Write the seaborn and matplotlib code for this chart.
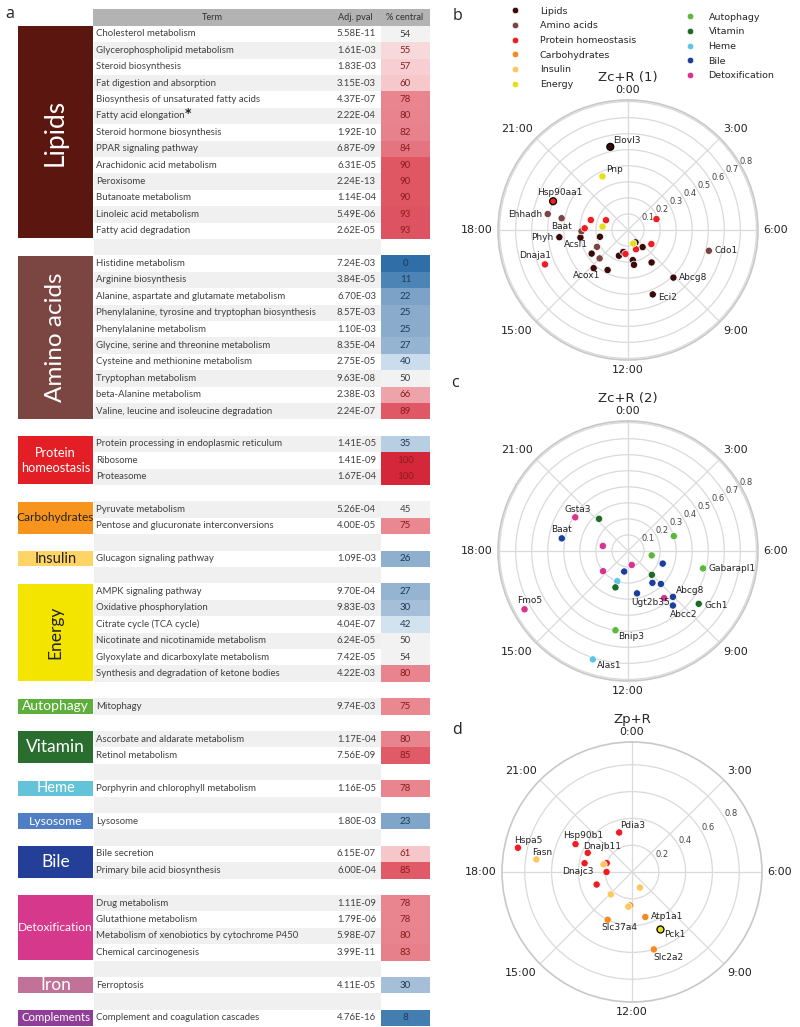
import numpy as np
import pandas as pd
import matplotlib.pyplot as plt
import seaborn as sns
from matplotlib.colors import LinearSegmentedColormap
from matplotlib.lines import Line2D
from matplotlib.patches import Rectangle

# ---------------- panel a : enrichment table ----------------
group_names = ["Lipids", "Amino acids", "Protein\nhomeostasis", "Carbohydrates", "Insulin", "Energy",
               "Autophagy", "Vitamin", "Heme", "Lysosome", "Bile", "Detoxification", "Iron", "Complements"]
group_sizes = [13, 10, 3, 2, 1, 6, 1, 2, 1, 1, 2, 4, 1, 1]
group_colors = ["#5b160f", "#7b4541", "#e31e24", "#f7941d", "#fed565", "#f3e500", "#5dae3a",
                "#2a6e2f", "#64c3d8", "#4f7ec4", "#233f97", "#d6398b", "#c07298", "#8f3f98"]
group_text_size = [19, 17.5, 9.2, 8.6, 10.5, 12.5, 10, 12.5, 10.5, 8.8, 12.5, 8.6, 12.5, 8.2]
group_text_rot = [90, 90, 0, 0, 0, 90, 0, 0, 0, 0, 0, 0, 0, 0]
group_text_color = ["white", "white", "white", "#222222", "#222222", "#222222", "white",
                    "white", "white", "white", "white", "white", "white", "white"]

terms = [
    "Cholesterol metabolism", "Glycerophospholipid metabolism", "Steroid biosynthesis",
    "Fat digestion and absorption", "Biosynthesis of unsaturated fatty acids", "Fatty acid elongation",
    "Steroid hormone biosynthesis", "PPAR signaling pathway", "Arachidonic acid metabolism", "Peroxisome",
    "Butanoate metabolism", "Linoleic acid metabolism", "Fatty acid degradation",
    "Histidine metabolism", "Arginine biosynthesis", "Alanine, aspartate and glutamate metabolism",
    "Phenylalanine, tyrosine and tryptophan biosynthesis", "Phenylalanine metabolism",
    "Glycine, serine and threonine metabolism", "Cysteine and methionine metabolism",
    "Tryptophan metabolism", "beta-Alanine metabolism", "Valine, leucine and isoleucine degradation",
    "Protein processing in endoplasmic reticulum", "Ribosome", "Proteasome",
    "Pyruvate metabolism", "Pentose and glucuronate interconversions",
    "Glucagon signaling pathway",
    "AMPK signaling pathway", "Oxidative phosphorylation", "Citrate cycle (TCA cycle)",
    "Nicotinate and nicotinamide metabolism", "Glyoxylate and dicarboxylate metabolism",
    "Synthesis and degradation of ketone bodies",
    "Mitophagy",
    "Ascorbate and aldarate metabolism", "Retinol metabolism",
    "Porphyrin and chlorophyll metabolism",
    "Lysosome",
    "Bile secretion", "Primary bile acid biosynthesis",
    "Drug metabolism", "Glutathione metabolism", "Metabolism of xenobiotics by cytochrome P450",
    "Chemical carcinogenesis",
    "Ferroptosis",
    "Complement and coagulation cascades",
]
pvals = [5.58e-11, 1.61e-03, 1.83e-03, 3.15e-03, 4.37e-07, 2.22e-04, 1.92e-10, 6.87e-09, 6.31e-05,
         2.24e-13, 1.14e-04, 5.49e-06, 2.62e-05,
         7.24e-03, 3.84e-05, 6.70e-03, 8.57e-03, 1.10e-03, 8.35e-04, 2.75e-05, 9.63e-08, 2.38e-03, 2.24e-07,
         1.41e-05, 1.41e-09, 1.67e-04,
         5.26e-04, 4.00e-05,
         1.09e-03,
         9.70e-04, 9.83e-03, 4.04e-07, 6.24e-05, 7.42e-05, 4.22e-03,
         9.74e-03,
         1.17e-04, 7.56e-09,
         1.16e-05,
         1.80e-03,
         6.15e-07, 6.00e-04,
         1.11e-09, 1.79e-06, 5.98e-07, 3.99e-11,
         4.11e-05,
         4.76e-16]
pct_central = [54, 55, 57, 60, 78, 80, 82, 84, 90, 90, 90, 93, 93,
               0, 11, 22, 25, 25, 27, 40, 50, 66, 89,
               35, 100, 100,
               45, 75,
               26,
               27, 30, 42, 50, 54, 80,
               75,
               80, 85,
               78,
               23,
               61, 85,
               78, 78, 80, 83,
               30,
               8]
starred_terms = ["Fatty acid elongation"]

# ---------------- panels b-d : polar phase plots ----------------
b_cat = ["Lipids"] * 16 + ["Amino acids"] * 6 + ["Protein homeostasis"] * 9 + ["Energy"] * 3
b_gene = ["Elovl3", "Abcg8", "Eci2", "Phyh", "Acsl1", "Acox1", "", "", "", "", "", "", "", "", "", "",
          "Ehhadh", "Baat", "", "Cdo1", "", "",
          "Hsp90aa1", "Dnaja1", "", "", "", "", "", "", "",
          "Pnp", "", ""]
b_hour = [23.2, 9.09, 10.6, 17.6, 17.4, 14.8, 13.8, 17.1, 15.8, 13.3, 12.8, 11.4, 11.35, 9.3, 9.6, 9.9,
          18.75, 18.67, 17.9, 6.96, 16.1, 15.0,
          19.4, 16.5, 19.0, 19.6, 18.15, 4.6, 8.07, 10.5, 12.4,
          22.3, 18.5, 10.6]
b_r = [0.53, 0.41, 0.43, 0.43, 0.30, 0.32, 0.28, 0.18, 0.27, 0.17, 0.14, 0.19, 0.22, 0.14, 0.25, 0.09,
       0.51, 0.42, 0.29, 0.52, 0.22, 0.25,
       0.50, 0.56, 0.24, 0.15, 0.27, 0.19, 0.17, 0.13, 0.15,
       0.37, 0.16, 0.09]

c_cat = ["Detoxification"] * 6 + ["Bile"] * 8 + ["Heme"] * 2 + ["Vitamin"] * 4 + ["Autophagy"] * 4
c_gene = ["Gsta3", "", "", "", "", "Fmo5",
          "Baat", "", "", "", "", "Ugt2b35", "Abcg8", "Abcc2",
          "", "Alas1",
          "", "", "", "Gch1",
          "", "", "Gabarapl1", "Bnip3"]
c_hour = [20.17, 18.75, 15.4, 11.0, 9.5, 16.04,
          18.72, 12.7, 7.33, 9.5, 9.0, 11.2, 9.04, 9.37,
          13.3, 13.2,
          21.2, 9.0, 13.27, 8.45,
          4.8, 6.7, 6.87, 12.6]
c_r = [0.39, 0.16, 0.20, 0.09, 0.37, 0.74,
       0.42, 0.13, 0.23, 0.25, 0.29, 0.27, 0.40, 0.44,
       0.20, 0.71,
       0.27, 0.21, 0.24, 0.55,
       0.30, 0.15, 0.48, 0.50]

d_cat = ["Protein homeostasis"] * 8 + ["Carbohydrates"] * 4 + ["Insulin"] * 5 + ["Energy"]
d_gene = ["Pdia3", "Hsp90b1", "Dnajb11", "", "", "Dnajc3", "", "Hspa5",
          "Slc37a4", "Atp1a1", "Slc2a2", "",
          "Fasn", "", "", "", "",
          "Pck1"]
d_hour = [22.8, 19.75, 19.56, 18.7, 19.3, 18.0, 16.7, 18.8,
          13.8, 10.9, 10.95, 12.2,
          18.5, 19.0, 14.9, 10.2, 12.4,
          10.27]
d_r = [0.31, 0.47, 0.36, 0.36, 0.20, 0.19, 0.28, 0.87,
       0.40, 0.35, 0.60, 0.25,
       0.72, 0.22, 0.23, 0.13, 0.26,
       0.47]

highlight_genes = ["Elovl3", "Hsp90aa1", "Pck1"]

palette = {"Lipids": "#3a0a0a", "Amino acids": "#7a4541", "Protein homeostasis": "#ee1d23",
           "Carbohydrates": "#f6891f", "Insulin": "#fec75c", "Energy": "#e6e01a",
           "Autophagy": "#5cb83c", "Vitamin": "#1c6b28", "Heme": "#5ec6e2", "Bile": "#1b3f9c",
           "Detoxification": "#d7338f"}
legend_left = ["Lipids", "Amino acids", "Protein homeostasis", "Carbohydrates", "Insulin", "Energy"]
legend_right = ["Autophagy", "Vitamin", "Heme", "Bile", "Detoxification"]

# label offsets (points) and alignment for the gene names
b_lab = {"Elovl3": (2, 1.5, "left", "bottom"), "Pnp": (3, 1.5, "left", "bottom"),
         "Hsp90aa1": (5, 3, "center", "bottom"), "Ehhadh": (-4, 0, "right", "center"),
         "Baat": (0, -3, "center", "top"), "Phyh": (-4, 0, "right", "center"),
         "Acsl1": (-3, -2, "center", "top"), "Acox1": (-5, -2, "center", "top"),
         "Dnaja1": (-7, 3, "center", "bottom"), "Cdo1": (4, 0, "left", "center"),
         "Abcg8": (4, 0, "left", "center"), "Eci2": (4, -2, "left", "center")}
c_lab = {"Gsta3": (1.5, 2.5, "center", "bottom"), "Baat": (0, 3, "center", "bottom"),
         "Gabarapl1": (4, 0, "left", "center"), "Abcg8": (2, 1, "left", "bottom"),
         "Gch1": (4, -1.5, "left", "center"), "Abcc2": (-2, -3, "left", "top"),
         "Ugt2b35": (-4, -3.5, "left", "top"), "Bnip3": (2, -1, "left", "top"),
         "Fmo5": (4, 3, "center", "bottom"), "Alas1": (3, -1, "left", "top")}
d_lab = {"Pdia3": (1, 2, "left", "bottom"), "Hsp90b1": (5.5, 3, "center", "bottom"),
         "Dnajb11": (-3, 1.5, "left", "bottom"), "Dnajc3": (-9, 0, "right", "center"),
         "Hspa5": (-3, 2, "left", "bottom"), "Fasn": (-3, 1.5, "left", "bottom"),
         "Slc37a4": (-4.5, -2.5, "left", "top"), "Atp1a1": (4, 0.5, "left", "center"),
         "Pck1": (3.5, -1, "left", "top"), "Slc2a2": (-0.5, -2.5, "left", "top")}

hour_ticks = [0, 3, 6, 9, 12, 15, 18, 21]
hour_align = {0: ("center", "bottom"), 3: ("left", "bottom"), 6: ("left", "center"), 9: ("left", "top"),
              12: ("center", "top"), 15: ("right", "top"), 18: ("right", "center"), 21: ("right", "bottom")}

sns.set_style("white")
plt.rcParams["font.family"] = "DejaVu Sans"

W, H = 800, 1027
fig = plt.figure(figsize=(W / 100, H / 100), dpi=100)


def px_rect(x0, y0, w, h):
    return [x0 / W, 1 - (y0 + h) / H, w / W, h / H]


# table canvas in pixel units
ax_t = fig.add_axes([0, 0, 1, 1])
ax_t.set_xlim(0, W)
ax_t.set_ylim(H, 0)
ax_t.axis("off")

Y0, PITCH = 34, 16.4
row_of_term = []
group_rows = []
r = 0
for n in group_sizes:
    group_rows.append(list(range(r, r + n)))
    row_of_term += list(range(r, r + n))
    r += n + 1
n_rows = r - 1

TBL = "Lato"
# zebra rows
for i in range(n_rows):
    if i % 2 == 1:
        ax_t.add_patch(Rectangle((94, Y0 + PITCH * i - PITCH / 2), 287, PITCH, fc="#f0f0f0", ec="none"))
# header
ax_t.add_patch(Rectangle((93, 8.5), 337, 17.3, fc="#b3b3b3", ec="none"))
ax_t.text(212, 17, "Term", ha="center", va="center", fontsize=6.6, family=TBL, color="#303030")
ax_t.text(355, 17, "Adj. pval", ha="center", va="center", fontsize=6.6, family=TBL, color="#303030")
ax_t.text(405, 17, "% central", ha="center", va="center", fontsize=6.6, family=TBL, color="#303030")

for term, p, row in zip(terms, pvals, row_of_term):
    y = Y0 + PITCH * row
    t = ax_t.text(96, y, term, ha="left", va="center", fontsize=6.9, family=TBL, color="#404040")
    ax_t.text(376, y, f"{p:.2E}", ha="right", va="center", fontsize=6.9, family=TBL, color="#404040")
    if term in starred_terms:
        ax_t.annotate("*", xy=(1, 0.8), xycoords=t, ha="left", va="center", fontsize=9,
                      fontweight="bold", color="#222222")

for name, rows_g, col, fs, rot, tc in zip(group_names, group_rows, group_colors, group_text_size,
                                          group_text_rot, group_text_color):
    top = Y0 + PITCH * rows_g[0] - PITCH / 2
    hgt = PITCH * len(rows_g)
    ax_t.add_patch(Rectangle((18, top + 0.5), 74.5, hgt - 1, fc=col, ec="none"))
    ax_t.text(55.5, top + hgt / 2, name, ha="center", va="center", rotation=rot, fontsize=fs,
              family=TBL, color=tc, linespacing=1.35)

for letter, x, y in [("a", 10, 14), ("b", 457, 16), ("c", 455, 383), ("d", 457, 730)]:
    ax_t.text(x, y, letter, ha="center", va="center", fontsize=11.5, family="Open Sans", color="#222222")

# % central column as a heatmap
central = np.full((n_rows, 1), np.nan)
for v, row in zip(pct_central, row_of_term):
    central[row, 0] = v
cmap_central = LinearSegmentedColormap.from_list("central", [
    (0.00, "#2f6ea6"), (0.11, "#4d84b6"), (0.25, "#89abcc"), (0.30, "#a6c0da"),
    (0.42, "#d2e2ef"), (0.44, "#f2f2f2"), (0.545, "#f2f2f2"), (0.55, "#f8d2d5"),
    (0.62, "#f5c4c8"), (0.66, "#eea2a9"), (0.75, "#e98891"), (0.84, "#e6808a"),
    (0.85, "#e15a67"), (0.93, "#df5563"), (1.0, "#d4283a")])
ax_h = fig.add_axes(px_rect(381, Y0 - PITCH / 2, 49, PITCH * n_rows))
sns.heatmap(pd.DataFrame(central), mask=np.isnan(central), cmap=cmap_central, vmin=0, vmax=100,
            annot=True, fmt=".0f", cbar=False, xticklabels=False, yticklabels=False, ax=ax_h,
            annot_kws={"fontsize": 7, "family": TBL})
ax_h.patch.set_alpha(0)
for txt in ax_h.texts:
    v = float(txt.get_text())
    txt.set_color("#8a1c1c" if v > 54 else ("#1f3a5a" if v < 45 else "#404040"))


def polar_panel(rect, cats, genes, hours, radii, rmax, rticks, title, lab):
    ax = fig.add_axes(rect, projection="polar")
    df = pd.DataFrame({"cat": cats, "gene": genes, "hour": hours, "r": radii})
    df["theta"] = np.deg2rad(df["hour"] * 15)
    sns.scatterplot(data=df, x="theta", y="r", hue="cat", palette=palette, s=27,
                    edgecolor="white", linewidth=0.5, legend=False, ax=ax, zorder=3)
    hl = df[df["gene"].isin(highlight_genes)]
    if len(hl):
        sns.scatterplot(data=hl, x="theta", y="r", hue="cat", palette=palette, s=25,
                        edgecolor="black", linewidth=0.9, legend=False, ax=ax, zorder=4)
    for _, row in df[df["gene"] != ""].iterrows():
        dx, dy, ha, va = lab[row["gene"]]
        ax.annotate(row["gene"], xy=(row["theta"], row["r"]), xytext=(dx, dy),
                    textcoords="offset points", ha=ha, va=va, fontsize=6.5, color="#222222", zorder=5)
    ax.set_theta_zero_location("N")
    ax.set_theta_direction(-1)
    ax.set_xticks(np.deg2rad(np.array(hour_ticks) * 15))
    ax.set_xticklabels([])
    ax.set_ylim(0, rmax)
    ax.set_yticks(rticks)
    ax.set_yticklabels([f"{t:g}" for t in rticks])
    ax.set_rlabel_position(60)
    ax.set_xlabel("")
    ax.set_ylabel("")
    ax.grid(True, color="#dadada", lw=0.9)
    ax.spines["polar"].set_color("#c8c8c8")
    ax.spines["polar"].set_linewidth(1.2)
    ax.tick_params(axis="y", labelsize=6, colors="#444444")
    for h in hour_ticks:
        ha, va = hour_align[h]
        ax.text(np.deg2rad(h * 15), rmax * 1.04, f"{h}:00", ha=ha, va=va, fontsize=8, color="#222222")
    ax.text(0.5, 1.087, title, transform=ax.transAxes, ha="center", va="center", fontsize=9.5)
    return ax


polar_panel(px_rect(498, 100, 260, 260), b_cat, b_gene, b_hour, b_r, 0.81,
            [0.1, 0.2, 0.3, 0.4, 0.5, 0.6, 0.7, 0.8], "Zc+R (1)", b_lab)
polar_panel(px_rect(498, 421, 260, 260), c_cat, c_gene, c_hour, c_r, 0.81,
            [0.1, 0.2, 0.3, 0.4, 0.5, 0.6, 0.7, 0.8], "Zc+R (2)", c_lab)
polar_panel(px_rect(502, 742, 260, 260), d_cat, d_gene, d_hour, d_r, 0.97,
            [0.2, 0.4, 0.6, 0.8], "Zp+R", d_lab)


def handles(names):
    return [Line2D([], [], ls="", marker="o", markersize=4.6, color=palette[n],
                   markeredgecolor="white", markeredgewidth=0.4, label=n) for n in names]


fig.legend(handles=handles(legend_left), loc="upper left", bbox_to_anchor=(510 / W, 1 - 6.5 / H),
           frameon=False, fontsize=6.8, handlelength=1, handletextpad=2.15, labelspacing=0.6,
           borderpad=0, borderaxespad=0)
fig.legend(handles=handles(legend_right), loc="upper left", bbox_to_anchor=(685 / W, 1 - 12.5 / H),
           frameon=False, fontsize=6.8, handlelength=1, handletextpad=1.5, labelspacing=0.6,
           borderpad=0, borderaxespad=0)

fig.savefig("out.png", dpi=100)
